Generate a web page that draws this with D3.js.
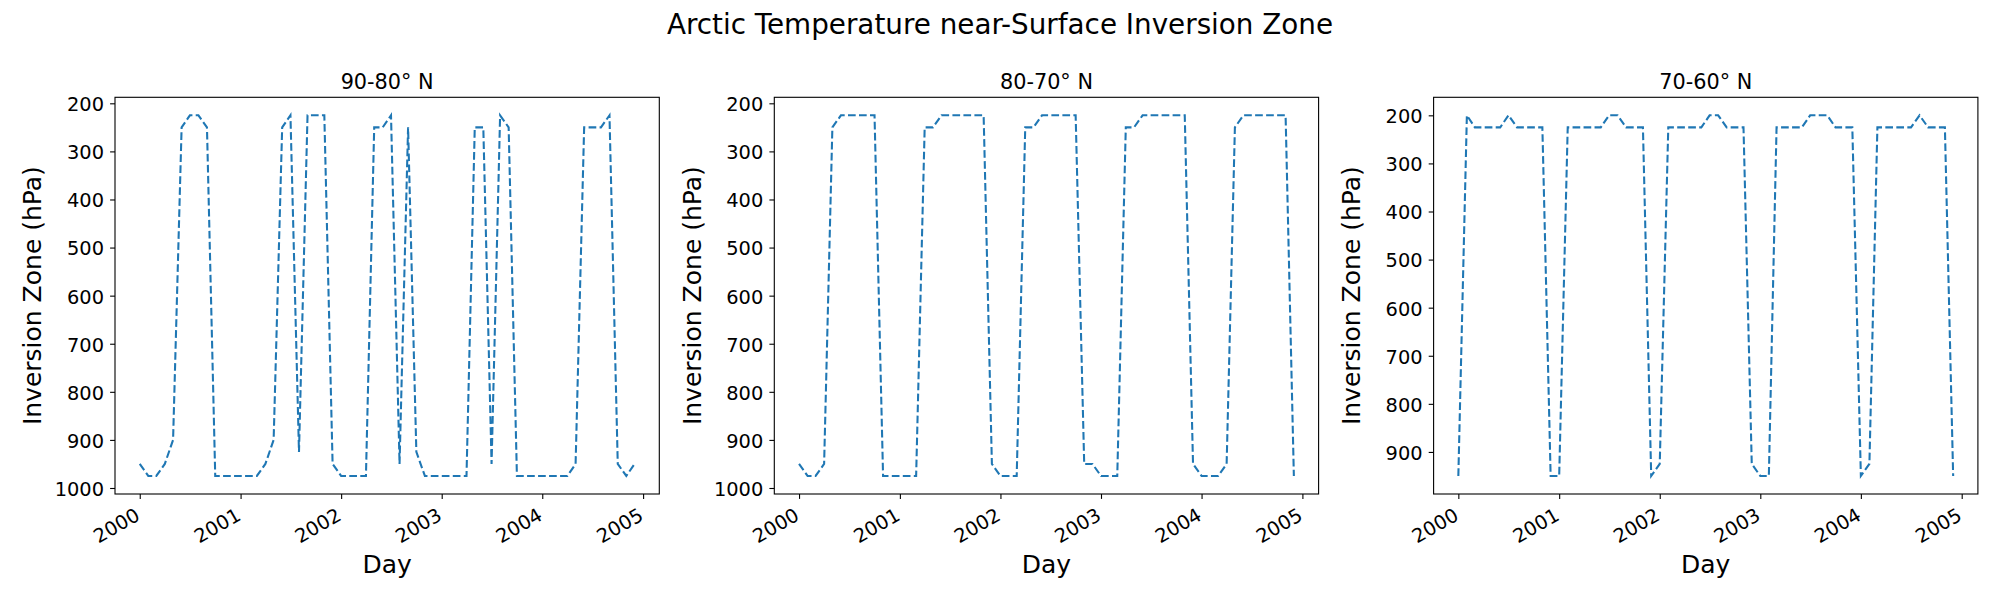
<!DOCTYPE html>
<html>
<head>
<meta charset="utf-8">
<script src="https://cdn.jsdelivr.net/npm/d3@7"></script>
<style>
  body { margin: 0; background: #fff; }
  svg { display: block; }
  text { font-family: "DejaVu Sans", sans-serif; fill: #000; }
</style>
</head>
<body>
<svg id="chart" width="2000" height="600"></svg>
<script>
// monthly samples, Jan 2000 .. Dec 2004
const days = [
  "2000-01","2000-02","2000-03","2000-04","2000-05","2000-06","2000-07","2000-08","2000-09","2000-10","2000-11","2000-12",
  "2001-01","2001-02","2001-03","2001-04","2001-05","2001-06","2001-07","2001-08","2001-09","2001-10","2001-11","2001-12",
  "2002-01","2002-02","2002-03","2002-04","2002-05","2002-06","2002-07","2002-08","2002-09","2002-10","2002-11","2002-12",
  "2003-01","2003-02","2003-03","2003-04","2003-05","2003-06","2003-07","2003-08","2003-09","2003-10","2003-11","2003-12",
  "2004-01","2004-02","2004-03","2004-04","2004-05","2004-06","2004-07","2004-08","2004-09","2004-10","2004-11","2004-12"
];

const zone90_80 = [
  950, 975, 975, 950, 900, 250, 225, 225, 250, 975, 975, 975,
  975, 975, 975, 950, 900, 250, 225, 925, 225, 225, 225, 950,
  975, 975, 975, 975, 250, 250, 225, 950, 250, 925, 975, 975,
  975, 975, 975, 975, 250, 250, 950, 225, 250, 975, 975, 975,
  975, 975, 975, 975, 950, 250, 250, 250, 225, 950, 975, 950
];

const zone80_70 = [
  950, 975, 975, 950, 250, 225, 225, 225, 225, 225, 975, 975,
  975, 975, 975, 250, 250, 225, 225, 225, 225, 225, 225, 950,
  975, 975, 975, 250, 250, 225, 225, 225, 225, 225, 950, 950,
  975, 975, 975, 250, 250, 225, 225, 225, 225, 225, 225, 950,
  975, 975, 975, 950, 250, 225, 225, 225, 225, 225, 225, 975
];

const zone70_60 = [
  950, 200, 225, 225, 225, 225, 200, 225, 225, 225, 225, 950,
  950, 225, 225, 225, 225, 225, 200, 200, 225, 225, 225, 950,
  925, 225, 225, 225, 225, 225, 200, 200, 225, 225, 225, 925,
  950, 950, 225, 225, 225, 225, 200, 200, 200, 225, 225, 225,
  950, 925, 225, 225, 225, 225, 225, 200, 225, 225, 225, 950
];

const titles = ["90-80\u00b0 N", "80-70\u00b0 N", "70-60\u00b0 N"];
const yearTicks = ["2000", "2001", "2002", "2003", "2004", "2005"];
const yTicksA = [200, 300, 400, 500, 600, 700, 800, 900, 1000];
const yTicksB = [200, 300, 400, 500, 600, 700, 800, 900];

const panels = [
  {title: titles[0], values: zone90_80, ticks: yTicksA},
  {title: titles[1], values: zone80_70, ticks: yTicksA},
  {title: titles[2], values: zone70_60, ticks: yTicksB}
];

const dim = {left: 115, top: 97.3, w: 544.3, h: 396.7, step: 659.3};
const tickLen = 4.9, tickPad = 4.9;

const svg = d3.select("#chart");
const parseMonth = d3.utcParse("%Y-%m");
const parseYear = d3.utcParse("%Y");
const dates = days.map(parseMonth);

svg.append("text")
  .attr("x", 1000)
  .attr("y", 34.3)
  .attr("text-anchor", "middle")
  .style("font-size", "27.8px")
  .text("Arctic Temperature near-Surface Inversion Zone");

// matplotlib style 5% padding on both axes
function padded(lo, hi) {
  const m = (hi - lo) * 0.05;
  return [lo - m, hi + m];
}

panels.forEach((p, i) => {
  const g = svg.append("g")
    .attr("transform", `translate(${dim.left + i * dim.step}, ${dim.top})`);

  const t0 = +dates[0], t1 = +dates[dates.length - 1];
  const xd = padded(t0, t1);
  const xScale = d3.scaleUtc()
    .domain([new Date(xd[0]), new Date(xd[1])])
    .range([0, dim.w]);

  const yd = padded(d3.min(p.values), d3.max(p.values));
  const yScale = d3.scaleLinear()
    .domain(yd)
    .range([0, dim.h]);

  const line = d3.line()
    .x((d, j) => xScale(dates[j]))
    .y(d => yScale(d));

  g.append("path")
    .datum(p.values)
    .attr("d", line)
    .attr("fill", "none")
    .attr("stroke", "#1f77b4")
    .attr("stroke-width", 2.08)
    .attr("stroke-dasharray", "7.7,3.3");

  // x axis
  const xAxis = g.append("g")
    .attr("transform", `translate(0, ${dim.h})`)
    .call(d3.axisBottom(xScale)
      .tickValues(yearTicks.map(parseYear))
      .tickFormat(d3.utcFormat("%Y"))
      .tickSize(tickLen)
      .tickPadding(tickPad));
  xAxis.select(".domain").remove();
  xAxis.selectAll("line").attr("stroke", "#000").attr("stroke-width", 1.1);
  xAxis.selectAll("text")
    .attr("x", 0).attr("y", 0).attr("dy", 0)
    .attr("text-anchor", "end")
    .attr("transform", "translate(1, 25) rotate(-30)")
    .style("font-size", "19.4px")
    .style("font-family", "DejaVu Sans, sans-serif")
    .attr("fill", "#000");

  // y axis
  const yAxis = g.append("g")
    .call(d3.axisLeft(yScale)
      .tickValues(p.ticks)
      .tickFormat(d3.format("d"))
      .tickSize(tickLen)
      .tickPadding(tickPad));
  yAxis.select(".domain").remove();
  yAxis.selectAll("line").attr("stroke", "#000").attr("stroke-width", 1.1);
  yAxis.selectAll("text")
    .attr("x", -11)
    .attr("dy", "0.38em")
    .style("font-size", "19.4px")
    .style("font-family", "DejaVu Sans, sans-serif")
    .attr("fill", "#000");

  // frame
  g.append("rect")
    .attr("width", dim.w)
    .attr("height", dim.h)
    .attr("fill", "none")
    .attr("stroke", "#000")
    .attr("stroke-width", 1.1);

  g.append("text")
    .attr("x", dim.w / 2)
    .attr("y", -8.3)
    .attr("text-anchor", "middle")
    .style("font-size", "20.8px")
    .text(p.title);

  g.append("text")
    .attr("x", dim.w / 2)
    .attr("y", 573 - dim.top)
    .attr("text-anchor", "middle")
    .style("font-size", "25px")
    .text("Day");

  g.append("text")
    .attr("transform", `translate(-73.6, ${dim.h / 2}) rotate(-90)`)
    .attr("text-anchor", "middle")
    .style("font-size", "25px")
    .text("Inversion Zone (hPa)");
});
</script>
</body>
</html>
